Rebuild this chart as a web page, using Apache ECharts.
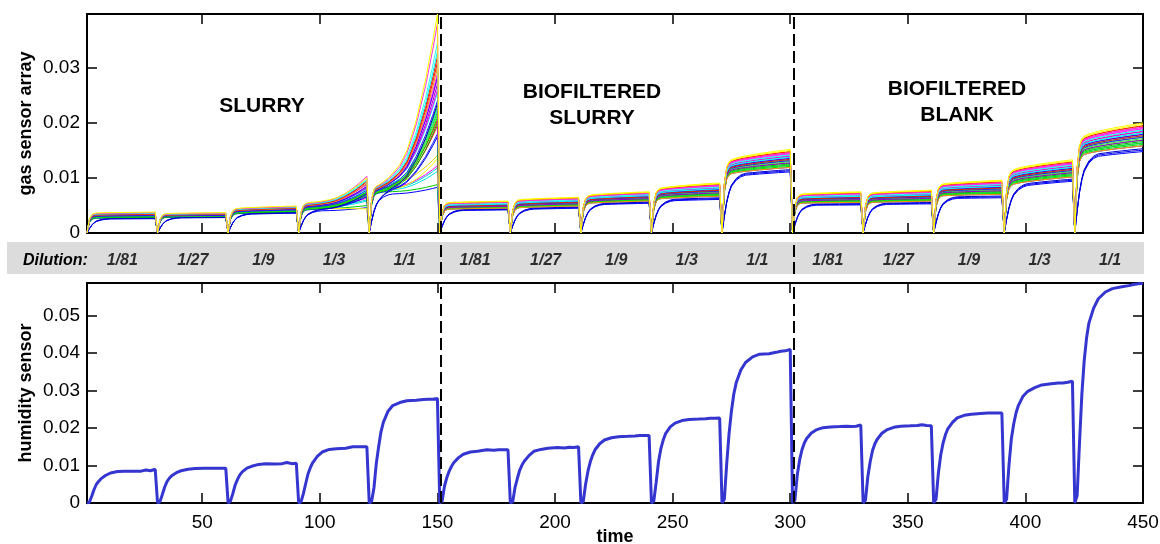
<!DOCTYPE html>
<html><head><meta charset="utf-8">
<script src="https://cdn.jsdelivr.net/npm/echarts@6/dist/echarts.min.js"></script>
<style>html,body{margin:0;padding:0;background:#fff}#c{width:1160px;height:544px}</style>
</head><body><div id="c"></div>
<script>
// ---------------- data ----------------
const segmentStarts = [1, 31, 61, 91, 121, 151, 181, 211, 241, 271, 301, 331, 361, 391, 421];
const dilutionLabels = ['1/81', '1/27', '1/9', '1/3', '1/1'];
const blockTitles = ['SLURRY', 'BIOFILTERED\nSLURRY', 'BIOFILTERED\nBLANK'];
const dividerTimes = [151.5, 301.5];
const xTickLabels = [50, 100, 150, 200, 250, 300, 350, 400, 450];

// humidity sensor: values at these offsets (time steps) from each segment start
const humidityOffsets = [0, 1, 2, 3, 4, 5, 6, 8, 10, 13, 16, 20, 23, 25, 27, 29];
const humidityBySegment = [
  [0, 0.0002, 0.0018, 0.0036, 0.0050, 0.0058, 0.0065, 0.0074, 0.0080, 0.0084, 0.0085, 0.0085, 0.0085, 0.0088, 0.0086, 0.0090],
  [0, 0.0003, 0.0022, 0.0042, 0.0057, 0.0066, 0.0073, 0.0081, 0.0086, 0.0090, 0.0092, 0.0093, 0.0093, 0.0093, 0.0093, 0.0093],
  [0, 0.0005, 0.0025, 0.0048, 0.0063, 0.0075, 0.0083, 0.0093, 0.0098, 0.0103, 0.0105, 0.0104, 0.0105, 0.0108, 0.0105, 0.0106],
  [0, 0.0003, 0.0025, 0.0052, 0.0078, 0.0095, 0.0108, 0.0125, 0.0136, 0.0143, 0.0145, 0.0146, 0.0150, 0.0150, 0.0150, 0.0150],
  [0, 0.0004, 0.0040, 0.0105, 0.0150, 0.0190, 0.0215, 0.0245, 0.0260, 0.0268, 0.0273, 0.0274, 0.0276, 0.0277, 0.0277, 0.0279],
  [0, 0.0005, 0.0045, 0.0068, 0.0085, 0.0098, 0.0108, 0.0121, 0.0130, 0.0136, 0.0138, 0.0142, 0.0141, 0.0142, 0.0142, 0.0142],
  [0, 0.0003, 0.0042, 0.0066, 0.0088, 0.0102, 0.0112, 0.0127, 0.0138, 0.0143, 0.0146, 0.0148, 0.0147, 0.0149, 0.0148, 0.0150],
  [0, 0.0004, 0.0050, 0.0085, 0.0110, 0.0128, 0.0142, 0.0158, 0.0168, 0.0174, 0.0177, 0.0178, 0.0179, 0.0180, 0.0180, 0.0180],
  [0, 0.0005, 0.0055, 0.0110, 0.0145, 0.0168, 0.0185, 0.0203, 0.0213, 0.0220, 0.0223, 0.0224, 0.0225, 0.0226, 0.0226, 0.0227],
  [0, 0.0010, 0.0105, 0.0185, 0.0245, 0.0290, 0.0320, 0.0355, 0.0375, 0.0390, 0.0397, 0.0398, 0.0402, 0.0405, 0.0406, 0.0410],
  [0, 0.0008, 0.0075, 0.0115, 0.0142, 0.0160, 0.0172, 0.0187, 0.0195, 0.0201, 0.0203, 0.0204, 0.0205, 0.0204, 0.0205, 0.0208],
  [0, 0.0008, 0.0070, 0.0110, 0.0140, 0.0158, 0.0170, 0.0186, 0.0195, 0.0202, 0.0205, 0.0206, 0.0207, 0.0209, 0.0207, 0.0206],
  [0, 0.0010, 0.0080, 0.0128, 0.0160, 0.0182, 0.0198, 0.0215, 0.0227, 0.0234, 0.0237, 0.0239, 0.0240, 0.0240, 0.0240, 0.0240],
  [0, 0.0010, 0.0100, 0.0170, 0.0210, 0.0240, 0.0260, 0.0285, 0.0298, 0.0308, 0.0315, 0.0318, 0.0320, 0.0320, 0.0322, 0.0325],
  [0, 0.0020, 0.0160, 0.0290, 0.0380, 0.0440, 0.0480, 0.0520, 0.0545, 0.0563, 0.0572, 0.0577, 0.0580, 0.0583, 0.0585, 0.0586]
];

// gas sensor array: response profiles (offsets from segment start)
const gasOffsets = [0, 1, 2, 3, 4, 6, 8, 10, 13, 16, 20, 24, 27, 29];
const riseFast   = [0, 0.70, 0.92, 0.98, 1, 1, 1, 1, 1, 1, 1, 1, 1, 1];
const riseSlow   = [0, 0.30, 0.55, 0.72, 0.83, 0.93, 0.98, 1, 1, 1, 1, 1, 1, 1];
const driftSaturating   = [0, 0, 0.05, 0.10, 0.15, 0.28, 0.38, 0.46, 0.56, 0.66, 0.77, 0.88, 0.95, 1];
const driftAccelerating = [0, 0, 0, 0, 0, 0.02, 0.04, 0.07, 0.12, 0.20, 0.38, 0.62, 0.84, 1];
const acceleratingSegments = [3, 4];
// band of levels per segment just after the step (start) and at segment end
const segStartLow  = [0.0025, 0.0027, 0.0033, 0.0040, 0.0070, 0.0040, 0.0042, 0.0050, 0.0057, 0.0100, 0.0050, 0.0051, 0.0062, 0.0080, 0.0132];
const segStartHigh = [0.0036, 0.0035, 0.0044, 0.0055, 0.0087, 0.0055, 0.0060, 0.0068, 0.0080, 0.0130, 0.0070, 0.0072, 0.0088, 0.0112, 0.0172];
const segEndLow    = [0.0026, 0.0028, 0.0036, null, null, 0.0042, 0.0045, 0.0054, 0.0061, 0.0111, 0.0051, 0.0053, 0.0064, 0.0094, 0.0148];
const segEndHigh   = [0.0038, 0.0037, 0.0049, null, null, 0.0058, 0.0065, 0.0075, 0.0091, 0.0152, 0.0075, 0.0078, 0.0096, 0.0133, 0.0200];
const sensorColors = ['#0000ff','#00cc00','#00e6e6','#00cccc','#ff00ff','#ffff00','#e6d200','#0000ee','#1a1aff','#ff0000','#00bb00','#ee0000','#00dd00','#33ee33','#22cc22','#00e0e0','#11dd11','#0000cc','#2222ff','#00f0f0','#ff00ff','#9900cc','#ee00ee','#3300ff','#ff33ff','#ff9900','#ff1111','#dd2200','#00ffff','#33ffee','#ff33cc','#ffff00'];
// relative position of each sensor inside the band: slurry block, biofiltered blocks
const sensorRankSlurry = [0.0, 0.25, 0.35, 0.5, 0.6, 0.3, 0.95, 0.1, 0.15, 0.45, 0.2, 0.55, 0.3, 0.4, 0.5, 0.65, 0.35, 0.05, 0.45, 0.7, 0.75, 0.6, 0.8, 0.55, 0.85, 0.65, 0.75, 0.7, 0.8, 0.9, 0.9, 1.0];
const sensorRankBio = [0.0, 0.4, 0.55, 0.3, 0.8, 1.0, 0.9, 0.05, 0.2, 0.6, 0.35, 0.7, 0.25, 0.45, 0.5, 0.75, 0.3, 0.1, 0.5, 0.65, 0.85, 0.4, 0.7, 0.6, 0.8, 0.2, 0.9, 0.55, 0.65, 0.75, 0.85, 0.95];
const sensorSlow = [1,0,0,0,0,0,0,1,0,0,0,0,0,0,0,0,0,1,0,0,0,0,0,0,0,0,0,0,0,0,0,0];
const slurryThirdEnd = [0.0046,0.0050,0.0058,0.0060,0.0063,0.0044,0.0065,0.0066,0.0068,0.0072,0.0070,0.0074,0.0071,0.0073,0.0075,0.0076,0.0074,0.0072,0.0078,0.0080,0.0084,0.0082,0.0088,0.0085,0.0090,0.0090,0.0093,0.0095,0.0096,0.0098,0.0103,0.0100];
const slurryFullEnd = [0.0083,0.0088,0.0112,0.0118,0.0122,0.0135,0.0141,0.0175,0.0180,0.0195,0.0200,0.0205,0.0210,0.0215,0.0220,0.0225,0.0230,0.0235,0.0240,0.0255,0.0260,0.0270,0.0280,0.0285,0.0290,0.0300,0.0310,0.0320,0.0330,0.0345,0.0380,0.0398];

// ---------------- build ----------------
const FONT = '"Liberation Sans", Arial, Helvetica, sans-serif';
const humidityData = [];
segmentStarts.forEach((s, k) => humidityOffsets.forEach((o, j) => humidityData.push([s + o, humidityBySegment[k][j]])));

const gasSeries = sensorColors.map((color, i) => {
  const data = [];
  segmentStarts.forEach((s, k) => {
    const r = k < 5 ? sensorRankSlurry[i] : sensorRankBio[i];
    const a = segStartLow[k] + r * (segStartHigh[k] - segStartLow[k]);
    let b;
    if (k === 3) b = slurryThirdEnd[i];
    else if (k === 4) b = slurryFullEnd[i];
    else b = segEndLow[k] + r * (segEndHigh[k] - segEndLow[k]);
    const rise = sensorSlow[i] ? riseSlow : riseFast;
    const drift = acceleratingSegments.includes(k) ? driftAccelerating : driftSaturating;
    gasOffsets.forEach((o, j) => data.push([s + o, rise[j] * (a + drift[j] * (b - a))]));
  });
  return {
    type: 'line', xAxisIndex: 0, yAxisIndex: 0, data, showSymbol: false, symbol: 'none',
    lineStyle: { color, width: 1 }, itemStyle: { color }, silent: true, z: 2
  };
});

const dividerLine = {
  symbol: 'none', silent: true, label: { show: false },
  lineStyle: { color: '#000', type: [12, 5], width: 2 },
  data: dividerTimes.map(t => ({ xAxis: t })),
  z: 10
};
gasSeries[gasSeries.length - 1].markLine = dividerLine;

const dilutionData = segmentStarts.map((s, k) => ({ name: dilutionLabels[k % 5], value: [s + 15, 0.5] }));

const L = 87, R = 17;
const yFmt = v => (v === 0 ? '0' : (+v.toFixed(2)).toString());
const axisLine = { show: true, onZero: false, lineStyle: { color: '#000', width: 2 } };
const tickIn = { show: true, inside: true, length: 10, lineStyle: { color: '#000', width: 1.5 } };
const lblStyle = { color: '#000', fontSize: 19, fontFamily: FONT };
const nameStyle = { color: '#000', fontSize: 18, fontWeight: 'bold', fontFamily: FONT };

function xAx(grid, pos, showLabels, extra) {
  return Object.assign({
    type: 'value', gridIndex: grid, position: pos, min: 1, max: 450, splitNumber: 9,
    axisLine, axisTick: tickIn, splitLine: { show: false },
    axisLabel: showLabels ? Object.assign({ margin: 10, showMinLabel: false,
      formatter: v => (xTickLabels.includes(v) ? String(v) : '') }, lblStyle) : { show: false }
  }, extra || {});
}
function yAx(grid, pos, max, showLabels, extra) {
  return Object.assign({
    type: 'value', gridIndex: grid, position: pos, min: 0, max, interval: 0.01,
    axisLine, axisTick: tickIn, splitLine: { show: false },
    axisLabel: showLabels ? Object.assign({ margin: 7, showMaxLabel: false, formatter: yFmt }, lblStyle) : { show: false }
  }, extra || {});
}

const option = {
  animation: false,
  backgroundColor: '#fff',
  textStyle: { fontFamily: FONT },
  grid: [
    { left: L, right: R, top: 14, height: 219, outerBoundsMode: 'none', containLabel: false },
    { left: L, right: R, top: 283, height: 220, outerBoundsMode: 'none', containLabel: false },
    { left: L, right: R, top: 242, height: 32, outerBoundsMode: 'none', containLabel: false }
  ],
  xAxis: [
    xAx(0, 'bottom', false),
    xAx(0, 'top', false),
    xAx(1, 'bottom', true, { name: 'time', nameLocation: 'middle', nameGap: 25, nameMoveOverlap: false, nameTextStyle: nameStyle }),
    xAx(1, 'top', false),
    { type: 'value', gridIndex: 2, min: 1, max: 450, show: false }
  ],
  yAxis: [
    yAx(0, 'left', 0.0398, true, { name: 'gas sensor array', nameLocation: 'middle', nameGap: 52, nameMoveOverlap: false, nameTextStyle: nameStyle }),
    yAx(0, 'right', 0.0398, false),
    yAx(1, 'left', 0.0587, true, { name: 'humidity sensor', nameLocation: 'middle', nameGap: 52, nameMoveOverlap: false, nameTextStyle: nameStyle }),
    yAx(1, 'right', 0.0587, false),
    { type: 'value', gridIndex: 2, min: 0, max: 1, show: false }
  ],
  graphic: [
    { type: 'rect', z: -10, silent: true, shape: { x: 7, y: 242, width: 1137, height: 32 }, style: { fill: '#dcdcdc' } },
    { type: 'text', silent: true, x: 23, y: 261, style: { text: 'Dilution:', fill: '#000', font: 'italic bold 16px ' + FONT, align: 'left', verticalAlign: 'middle' } },
    { type: 'text', silent: true, x: 262, y: 106, style: { text: blockTitles[0], fill: '#000', font: 'bold 21px ' + FONT, align: 'center', verticalAlign: 'middle' } },
    { type: 'text', silent: true, x: 592, y: 105, style: { text: blockTitles[1], fill: '#000', font: 'bold 21px ' + FONT, align: 'center', verticalAlign: 'middle', lineHeight: 26 } },
    { type: 'text', silent: true, x: 957, y: 102, style: { text: blockTitles[2], fill: '#000', font: 'bold 21px ' + FONT, align: 'center', verticalAlign: 'middle', lineHeight: 26 } }
  ],
  series: gasSeries.concat([
    {
      type: 'line', xAxisIndex: 2, yAxisIndex: 2, data: humidityData, showSymbol: false, symbol: 'none',
      lineStyle: { color: '#3535cf', width: 3 }, itemStyle: { color: '#3535cf' }, silent: true, z: 3,
      markLine: dividerLine
    },
    {
      type: 'scatter', xAxisIndex: 4, yAxisIndex: 4, data: dilutionData, symbolSize: 0, silent: true,
      label: { show: true, position: 'inside', formatter: p => p.name, color: '#000',
        fontSize: 16, fontWeight: 'bold', fontStyle: 'italic', fontFamily: FONT, offset: [0, 3] },
      markLine: dividerLine
    }
  ])
};
echarts.init(document.getElementById('c')).setOption(option);
</script>
</body></html>
